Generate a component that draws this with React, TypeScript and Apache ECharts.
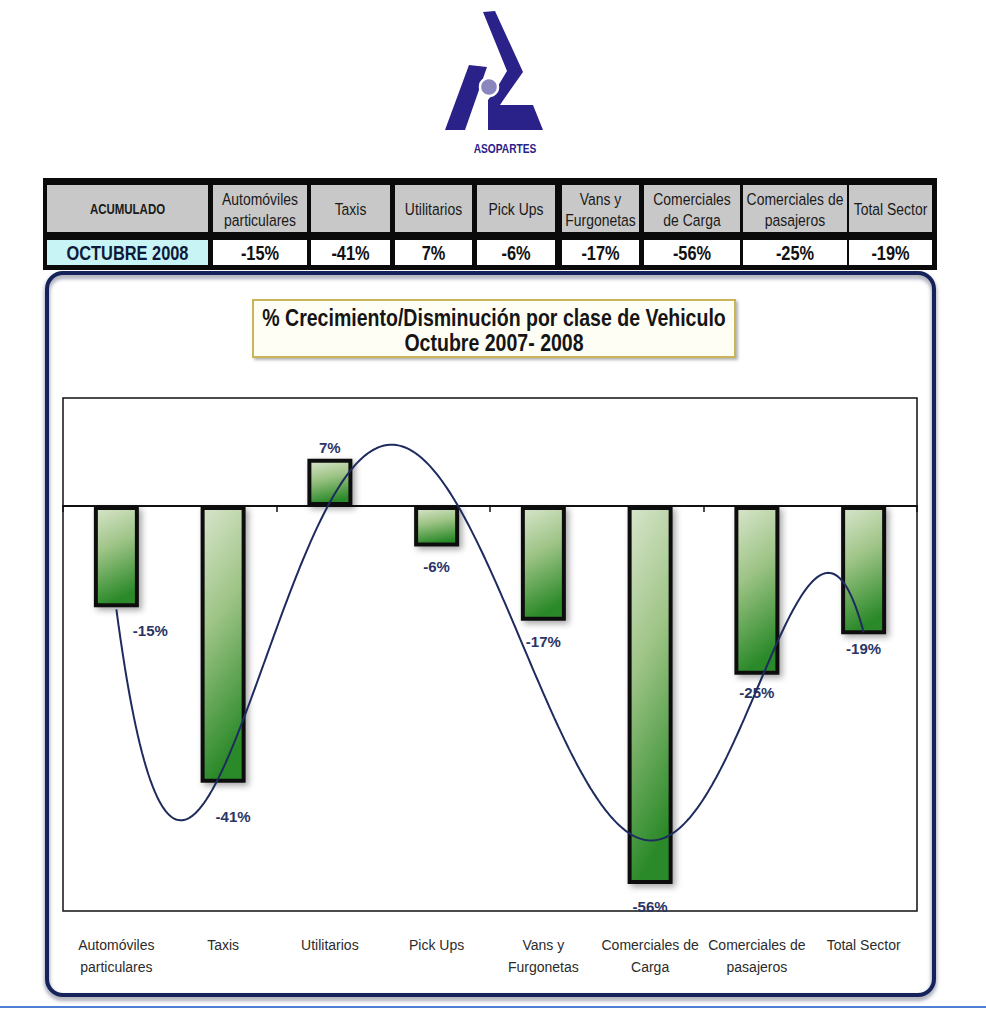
import React, { useEffect, useRef } from "react";
import * as echarts from "echarts";

// ---------- data ----------
const categories = [
  "Automóviles\nparticulares",
  "Taxis",
  "Utilitarios",
  "Pick Ups",
  "Vans y\nFurgonetas",
  "Comerciales de\nCarga",
  "Comerciales de\npasajeros",
  "Total Sector",
];
const tableHeaders = [
  "Automóviles\nparticulares",
  "Taxis",
  "Utilitarios",
  "Pick Ups",
  "Vans y\nFurgonetas",
  "Comerciales\nde Carga",
  "Comerciales de\npasajeros",
  "Total Sector",
];
const growth = [-15, -41, 7, -6, -17, -56, -25, -19];
const cornerLabel = "ACUMULADO";
const rowLabel = "OCTUBRE 2008";
const titleLines = ["% Crecimiento/Disminución por clase de Vehiculo", "Octubre 2007- 2008"];
const logoText = "ASOPARTES";
const trendOrder = 6; // polynomial trendline order (as in the spreadsheet)

// ---------- helpers ----------
const SANS = "'Liberation Sans', Arial, sans-serif";
const SQUEEZE = 0.82; // horizontal condensation for the narrow look

function polyFit(ys: number[], order: number) {
  const n = ys.length;
  const m = order + 1;
  const c = (n + 1) / 2;
  const A: number[][] = Array.from({ length: m }, () => new Array(m + 1).fill(0));
  for (let i = 0; i < n; i++) {
    const x = i + 1 - c;
    const pw = [1];
    for (let k = 1; k < 2 * m; k++) pw.push(pw[k - 1] * x);
    for (let r = 0; r < m; r++) {
      for (let s = 0; s < m; s++) A[r][s] += pw[r + s];
      A[r][m] += pw[r] * ys[i];
    }
  }
  for (let col = 0; col < m; col++) {
    let piv = col;
    for (let r = col + 1; r < m; r++) if (Math.abs(A[r][col]) > Math.abs(A[piv][col])) piv = r;
    [A[col], A[piv]] = [A[piv], A[col]];
    for (let r = 0; r < m; r++) {
      if (r === col) continue;
      const f = A[r][col] / A[col][col];
      for (let k = col; k <= m; k++) A[r][k] -= f * A[col][k];
    }
  }
  const coef = A.map((row, i) => row[m] / row[i]);
  return (x: number) => {
    const t = x - c;
    let v = 0;
    for (let k = m - 1; k >= 0; k--) v = v * t + coef[k];
    return v;
  };
}

// table column layout (pixels)
const colEdges = [
  [47, 208],
  [213, 307],
  [311, 390],
  [395, 472],
  [477, 555],
  [562, 639],
  [644, 740],
  [743, 847],
  [849, 932],
];

// per-bar label placement
const labelPlacement: { position: string; offset: number[] }[] = [
  { position: "bottom", offset: [34, 12] },
  { position: "bottom", offset: [10, 22] },
  { position: "top", offset: [0, 0] },
  { position: "bottom", offset: [0, 8] },
  { position: "bottom", offset: [0, 9] },
  { position: "bottom", offset: [0, 11] },
  { position: "bottom", offset: [0, 6] },
  { position: "bottom", offset: [0, 3] },
];

function txt(x: number, y: number, text: string, size: number, weight: string, fill: string, squeeze = SQUEEZE, lineHeight?: number) {
  return {
    type: "text",
    x,
    y,
    scaleX: squeeze,
    style: {
      text,
      fontSize: size,
      fontWeight: weight,
      fontFamily: SANS,
      lineHeight: lineHeight ?? Math.round(size * 1.2),
      fill,
      align: "center",
      verticalAlign: "middle",
    },
  };
}

export default function App() {
  const ref = useRef<HTMLDivElement>(null);

  useEffect(() => {
    if (!ref.current) return;
    const chart = echarts.init(ref.current, null, { renderer: "svg" });

    const fit = polyFit(growth, trendOrder);
    const trend: number[][] = [];
    for (let x = 1; x <= growth.length + 1e-9; x += 0.02) trend.push([x, fit(x)]);

    const barGradient = new echarts.graphic.LinearGradient(0, 0, 0.2, 1, [
      { offset: 0, color: "#d8e5cb" },
      { offset: 0.45, color: "#9ec486" },
      { offset: 1, color: "#2c8a2a" },
    ]);

    const logoColor = "#2a2189";
    const graphics: any[] = [
      // logo: right arm + hook + bottom band
      {
        type: "polygon",
        shape: {
          points: [
            [483, 12], [495, 11], [523, 72], [504, 99], [500, 105], [533, 105], [543, 130],
            [488, 130], [488, 100], [495, 91], [507, 71],
          ],
        },
        style: { fill: logoColor },
      },
      // logo: left arm
      { type: "polygon", shape: { points: [[469, 65], [487, 67], [465, 130], [445, 130]] }, style: { fill: logoColor } },
      { type: "circle", shape: { cx: 489, cy: 87, r: 9 }, style: { fill: "#8a87bf", stroke: "#ffffff", lineWidth: 2.5 } },
      txt(505, 149, logoText, 12, "bold", logoColor, 0.85),
      // table frame
      { type: "rect", shape: { x: 43, y: 178, width: 894, height: 92 }, style: { fill: "#0a0a0a" } },
    ];

    colEdges.forEach(([x0, x1], i) => {
      graphics.push({ type: "rect", shape: { x: x0, y: 185, width: x1 - x0, height: 47 }, style: { fill: "#c8c8c8" } });
      graphics.push({
        type: "rect",
        shape: { x: x0, y: 240, width: x1 - x0, height: 25 },
        style: { fill: i === 0 ? "#c8f4f6" : "#ffffff" },
      });
      const cx = (x0 + x1) / 2;
      graphics.push(
        i === 0
          ? txt(cx, 209, cornerLabel, 14, "bold", "#1a1a1a")
          : txt(cx, 209, tableHeaders[i - 1], 17, "normal", "#1a1a1a", SQUEEZE, 21)
      );
      graphics.push(
        txt(cx, 253, i === 0 ? rowLabel : `${growth[i - 1]}%`, 20, "bold", i === 0 ? "#0d1a3a" : "#111111")
      );
    });

    // panel
    graphics.push({
      type: "rect",
      shape: { x: 47, y: 273, width: 887, height: 722, r: 16 },
      style: { fill: "none", stroke: "#13235a", lineWidth: 4, shadowBlur: 4, shadowOffsetY: 3, shadowColor: "rgba(10,20,60,0.5)" },
    });
    // title box
    graphics.push({
      type: "rect",
      shape: { x: 253, y: 300, width: 482, height: 57 },
      style: { fill: "#fffef4", stroke: "#c9b458", lineWidth: 2, shadowBlur: 3, shadowOffsetX: 2, shadowOffsetY: 2, shadowColor: "rgba(0,0,0,0.3)" },
    });
    graphics.push(txt(494, 318, titleLines[0], 23, "bold", "#151515", 0.85));
    graphics.push(txt(494, 343, titleLines[1], 23, "bold", "#151515", 0.85));
    // bottom rule
    graphics.push({ type: "line", shape: { x1: 0, y1: 1007, x2: 986, y2: 1007 }, style: { stroke: "#4f7fd4", lineWidth: 2 } });

    const option: any = {
      animation: false,
      backgroundColor: "#ffffff",
      grid: { left: 63, right: 69, top: 398, bottom: 103, show: true, borderColor: "#111", borderWidth: 1.5, backgroundColor: "transparent" },
      xAxis: [
        {
          type: "category",
          data: categories,
          position: "bottom",
          axisLine: { show: false, onZero: false },
          axisTick: { show: false },
          axisLabel: { interval: 0, margin: 23, fontSize: 14, lineHeight: 22, color: "#2b2b2b", fontFamily: SANS },
        },
        {
          type: "category",
          data: categories,
          position: "bottom",
          axisLine: { show: true, onZero: true, lineStyle: { color: "#111", width: 2 } },
          axisTick: { show: true, length: 6, inside: false, lineStyle: { color: "#111", width: 1.5 } },
          axisLabel: { show: false },
        },
        { type: "value", min: 0.5, max: growth.length + 0.5, show: false },
      ],
      yAxis: { type: "value", min: -60, max: 16, show: false, splitLine: { show: false } },
      series: [
        {
          type: "bar",
          xAxisIndex: 0,
          barWidth: 45,
          data: growth.map((v, i) => ({ value: v, label: { position: labelPlacement[i].position, offset: labelPlacement[i].offset } })),
          itemStyle: {
            color: barGradient,
            borderColor: "#101010",
            borderWidth: 4,
            shadowColor: "rgba(0,0,0,0.35)",
            shadowBlur: 6,
            shadowOffsetX: 3,
            shadowOffsetY: 3,
          },
          label: {
            show: true,
            distance: 4,
            formatter: "{c}%",
            fontSize: 15,
            fontWeight: "bold",
            fontFamily: SANS,
            color: "#2a3566",
          },
          z: 2,
        },
        {
          type: "line",
          xAxisIndex: 2,
          data: trend,
          showSymbol: false,
          silent: true,
          lineStyle: { color: "#1e2b5e", width: 2 },
          z: 5,
        },
      ],
      graphic: graphics,
    };

    chart.setOption(option);
    return () => chart.dispose();
  }, []);

  return (
    <div
      ref={ref}
      style={{ position: "fixed", left: 0, top: 0, width: 986, height: 1014, background: "#ffffff" }}
    />
  );
}
